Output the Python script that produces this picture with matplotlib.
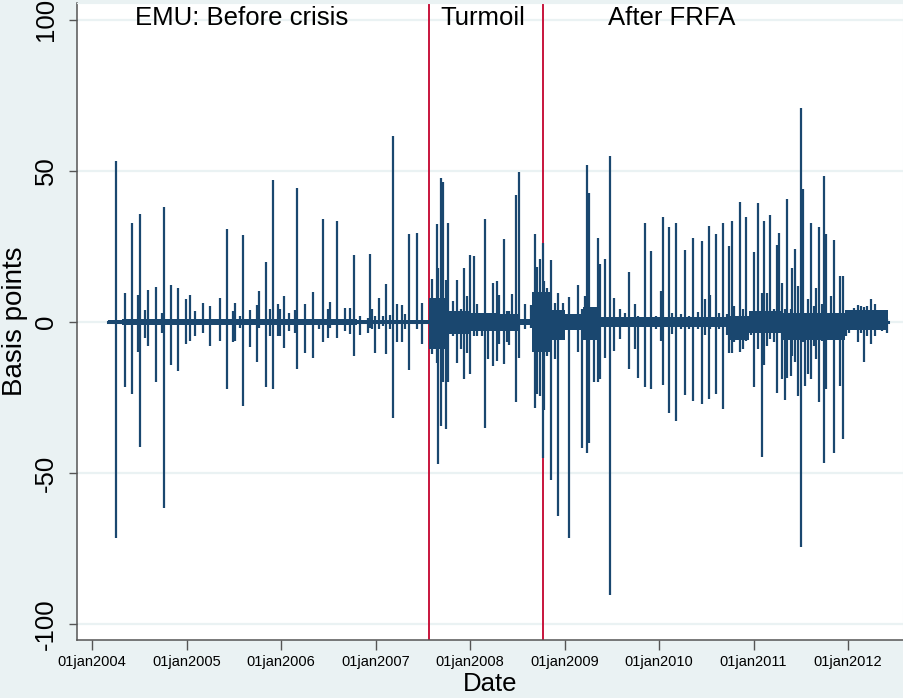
import matplotlib
matplotlib.use("Agg")
import matplotlib.pyplot as plt
import numpy as np

plt.rcParams["font.family"] = ["Liberation Sans", "DejaVu Sans"]

# daily changes (basis points); spikes, x in decimal years
pre_year = [2004.254, 2004.349, 2004.420, 2004.484, 2004.505, 2004.561, 2004.596, 2004.674,
            2004.738, 2004.765, 2004.836, 2004.913, 2004.992, 2005.037, 2005.090, 2005.171,
            2005.249, 2005.354, 2005.425, 2005.495, 2005.516, 2005.566, 2005.598, 2005.675,
            2005.746, 2005.770, 2005.844, 2005.880, 2005.915, 2005.965, 2005.992, 2006.028,
            2006.088, 2006.151, 2006.172, 2006.251, 2006.339, 2006.405, 2006.441, 2006.497,
            2006.522, 2006.596, 2006.680, 2006.733, 2006.769, 2006.833, 2006.921, 2006.939,
            2006.960, 2006.995, 2007.037, 2007.076, 2007.108, 2007.153, 2007.188, 2007.231,
            2007.277, 2007.312, 2007.358, 2007.436, 2007.489]
pre_high = [53.3, 9.7, 32.7, 8.8, 35.7, 4.0, 10.5, 11.7, 3.1, 37.9, 12.1, 11.4, 7.5, 8.8, 3.6, 6.4,
            5.3, 8.0, 30.9, 3.6, 6.2, 2.0, 28.7, 4.0, 5.5, 10.3, 20.0, 4.2, 46.9, 6.0, 4.2, 8.6,
            2.9, 3.9, 44.3, 5.9, 10.0, 1.1, 34.2, 4.2, 6.7, 33.5, 4.7, 4.7, 22.1, 2.0, 1.4, 22.4,
            4.2, 2.0, 8.0, 2.0, 12.5, 2.2, 61.6, 5.9, 5.5, 2.5, 29.0, 29.6, 6.4]
pre_low = [-71.4, -21.7, -24.0, -10.0, -41.3, -5.2, -8.0, -19.9, -3.5, -61.7, -14.4, -16.3, -7.4,
           -6.3, -4.6, -3.7, -8.0, -6.3, -22.3, -6.6, -6.3, -1.9, -27.8, -8.2, -13.1, -2.0, -21.5,
           -4.6, -22.3, -4.6, -4.6, -8.7, -3.0, -3.5, -15.7, -10.2, -12.1, -2.4, -6.6, -5.2, -2.0,
           -5.2, -3.0, -4.1, -11.3, -4.4, -3.5, -2.0, -2.4, -10.4, -2.4, -1.3, -10.7, -2.4, -31.7,
           -6.8, -6.6, -2.4, -15.9, -2.4, -7.4]

turm_year = [2007.595, 2007.648, 2007.665, 2007.690, 2007.711, 2007.746, 2007.764, 2007.817,
             2007.859, 2007.901, 2007.940, 2007.965, 2008.000, 2008.042, 2008.077, 2008.124,
             2008.159, 2008.194, 2008.240, 2008.282, 2008.310, 2008.360, 2008.388, 2008.416,
             2008.444, 2008.490, 2008.519, 2008.579, 2008.649, 2008.685, 2008.712, 2008.738]
turm_high = [14.1, 32.3, 18.0, 47.5, 46.4, 13.8, 32.9, 7.0, 13.8, 4.2, 17.7, 8.6, 22.1, 21.9, 5.9,
             2.5, 34.2, 2.5, 12.8, 13.6, 9.0, 27.4, 3.6, 3.6, 9.2, 42.0, 49.7, 5.9, 5.5, 29.0,
             18.3, 21.0]
turm_low = [-10.7, -13.5, -47.1, -34.4, -20.0, -35.5, -20.0, -4.6, -13.5, -9.1, -19.0, -10.2,
            -17.1, -4.6, -4.6, -4.6, -35.0, -12.4, -14.6, -12.8, -7.4, -14.0, -6.8, -7.7, -2.4,
            -26.5, -11.8, -2.4, -2.0, -28.4, -24.0, -24.5]

post_year = [2008.769, 2008.783, 2008.818, 2008.854, 2008.896, 2008.931, 2008.984, 2009.048,
             2009.090, 2009.143, 2009.185, 2009.214, 2009.238, 2009.259, 2009.312, 2009.354,
             2009.379, 2009.432, 2009.478, 2009.524, 2009.584, 2009.637, 2009.683, 2009.743,
             2009.778, 2009.855, 2009.915, 2009.968, 2010.021, 2010.046, 2010.102, 2010.138,
             2010.180, 2010.233, 2010.275, 2010.321, 2010.356, 2010.409, 2010.451, 2010.490,
             2010.525, 2010.540, 2010.603, 2010.638, 2010.681, 2010.720, 2010.744, 2010.772,
             2010.797, 2010.857, 2010.886, 2010.921, 2010.974, 2011.002, 2011.044, 2011.090,
             2011.108, 2011.139, 2011.177, 2011.220, 2011.249, 2011.273, 2011.302, 2011.337,
             2011.351, 2011.393, 2011.411, 2011.439, 2011.471, 2011.499, 2011.524, 2011.545,
             2011.577, 2011.605, 2011.640, 2011.664, 2011.696, 2011.728, 2011.746, 2011.770,
             2011.817, 2011.852, 2011.880, 2011.915, 2011.947, 2011.976, 2012.011, 2012.063,
             2012.106, 2012.134, 2012.169, 2012.204, 2012.247, 2012.282, 2012.328, 2012.363,
             2012.416]
post_high = [26.3, 13.5, 11.3, 20.5, 6.4, 9.5, 6.4, 8.3, 2.5, 12.1, 4.2, 8.6, 51.9, 42.8, 3.6, 27.9,
             19.3, 20.8, 55.0, 8.0, 4.2, 3.1, 16.6, 5.9, 2.0, 32.9, 23.5, 2.0, 10.3, 34.9, 31.6,
             3.1, 32.7, 2.5, 23.7, 2.0, 27.7, 3.3, 26.8, 7.5, 31.8, 8.8, 29.0, 3.1, 32.7, 2.5,
             25.2, 33.3, 5.3, 39.7, 4.2, 34.6, 2.0, 23.3, 39.3, 9.7, 33.5, 9.7, 35.3, 4.2, 25.5,
             29.6, 12.8, 4.2, 40.6, 4.2, 17.7, 24.0, 11.9, 70.8, 43.9, 2.0, 7.5, 32.9, 5.3, 11.4,
             31.6, 5.9, 48.4, 29.0, 8.6, 27.2, 3.1, 15.2, 15.2, 2.5, 3.1, 4.7, 5.5, 5.3, 5.1, 5.3,
             7.5, 5.9, 3.1, 2.9, 1.1]
post_low = [-45.0, -29.0, -11.3, -52.3, -12.4, -64.3, -3.0, -71.4, -2.4, -9.9, -41.6, -3.5, -43.3,
            -40.0, -20.0, -20.0, -18.9, -12.1, -90.4, -9.5, -5.5, -1.3, -15.7, -9.1, -18.4, -21.7,
            -22.3, -2.4, -6.3, -21.0, -30.2, -4.1, -32.8, -2.4, -24.3, -2.4, -26.2, -2.4, -27.3,
            -4.4, -25.6, -2.4, -23.7, -2.4, -28.9, -4.4, -10.4, -10.2, -6.8, -9.9, -9.1, -6.3,
            -4.4, -21.7, -9.1, -44.6, -14.1, -8.0, -5.7, -6.8, -23.4, -2.4, -18.8, -25.8, -18.4,
            -17.9, -11.3, -13.1, -24.5, -74.4, -6.8, -21.2, -17.3, -19.0, -8.0, -12.4, -26.5,
            -6.3, -46.6, -22.3, -4.6, -43.3, -2.4, -21.2, -38.6, -4.6, -3.5, -2.4, -6.8, -3.5,
            -13.1, -4.6, -7.4, -4.6, -2.4, -3.0, -3.8]

# dense day-to-day noise band around zero (step edges in decimal years)
band_year = [2004.17, 2004.32, 2005.55, 2006.80, 2007.57, 2007.78, 2008.00, 2008.30, 2008.53,
             2008.66, 2008.86, 2009.00, 2009.20, 2009.36, 2010.00, 2010.75, 2010.95, 2011.30,
             2011.97, 2012.42]
band_high = [0.8, 1.1, 1.0, 0.8, 8.0, 3.5, 3.0, 2.5, 1.0, 10.0, 4.0, 2.5, 5.0, 1.8, 1.6, 2.0, 3.5,
             3.0, 4.0, 4.0]
band_low = [-0.8, -1.1, -1.0, -0.8, -9.0, -4.0, -3.0, -3.0, -1.0, -10.0, -6.0, -2.5, -6.0, -1.8,
            -1.8, -6.0, -3.5, -6.0, -2.5, -2.5]

breaks = [2007.569, 2008.769]
period_labels = ["EMU: Before crisis", "Turmoil", "After FRFA"]
label_x = [2004.455, 2007.683, 2009.46]
year_ticks = [2004, 2005, 2006, 2007, 2008, 2009, 2010, 2011, 2012]
tick_labels = ["01jan%d" % y for y in year_ticks]

NAVY = "#1a476f"
BG = "#eaf2f3"

fig = plt.figure(figsize=(9.04, 6.98), dpi=100, facecolor=BG)
ax = fig.add_axes([77 / 904, 1 - 640 / 698, 826 / 904, 637 / 698])
ax.set_facecolor("white")

for y in [-100, -50, 0, 50, 100]:
    ax.axhline(y, color=BG, lw=1.6, zorder=0)

for b in breaks:
    ax.axvline(b, color="#c8143c", lw=1.4, zorder=1)

yrs = np.array(pre_year + turm_year + post_year)
hi = np.array(pre_high + turm_high + post_high)
lo = np.array(pre_low + turm_low + post_low)

ax.fill_between(band_year, band_low, band_high, step="post", color=NAVY, lw=0, zorder=2)
ax.plot([band_year[0], band_year[-1]], [0, 0], color=NAVY, lw=2.2, zorder=2)
ax.vlines(yrs, lo, hi, color=NAVY, lw=1.6, zorder=3)

for txt, x in zip(period_labels, label_x):
    ax.text(x, 98.3, txt, fontsize=18.5, ha="left", va="baseline", color="black")

ax.set_xlim(2003.841, 2012.582)
ax.set_ylim(-105.3, 105.6)
ax.set_xticks(year_ticks)
ax.set_xticklabels(tick_labels)
ax.set_yticks([-100, -50, 0, 50, 100])
ax.set_yticklabels(["-100", "-50", "0", "50", "100"], rotation=90, va="center")
ax.tick_params(axis="x", length=7, width=1, color="#555555", labelsize=10.5, pad=4)
ax.tick_params(axis="y", length=6, width=1, color="#555555", labelsize=18.5, pad=8)

for side in ["left", "bottom"]:
    ax.spines[side].set_color("#555555")
    ax.spines[side].set_linewidth(1.1)
for side in ["top", "right"]:
    ax.spines[side].set_color(BG)

ax.set_ylabel("Basis points", fontsize=20, labelpad=4)
ax.set_xlabel("Date", fontsize=18.5, labelpad=2)

fig.savefig("out.png", dpi=100, facecolor=BG)
